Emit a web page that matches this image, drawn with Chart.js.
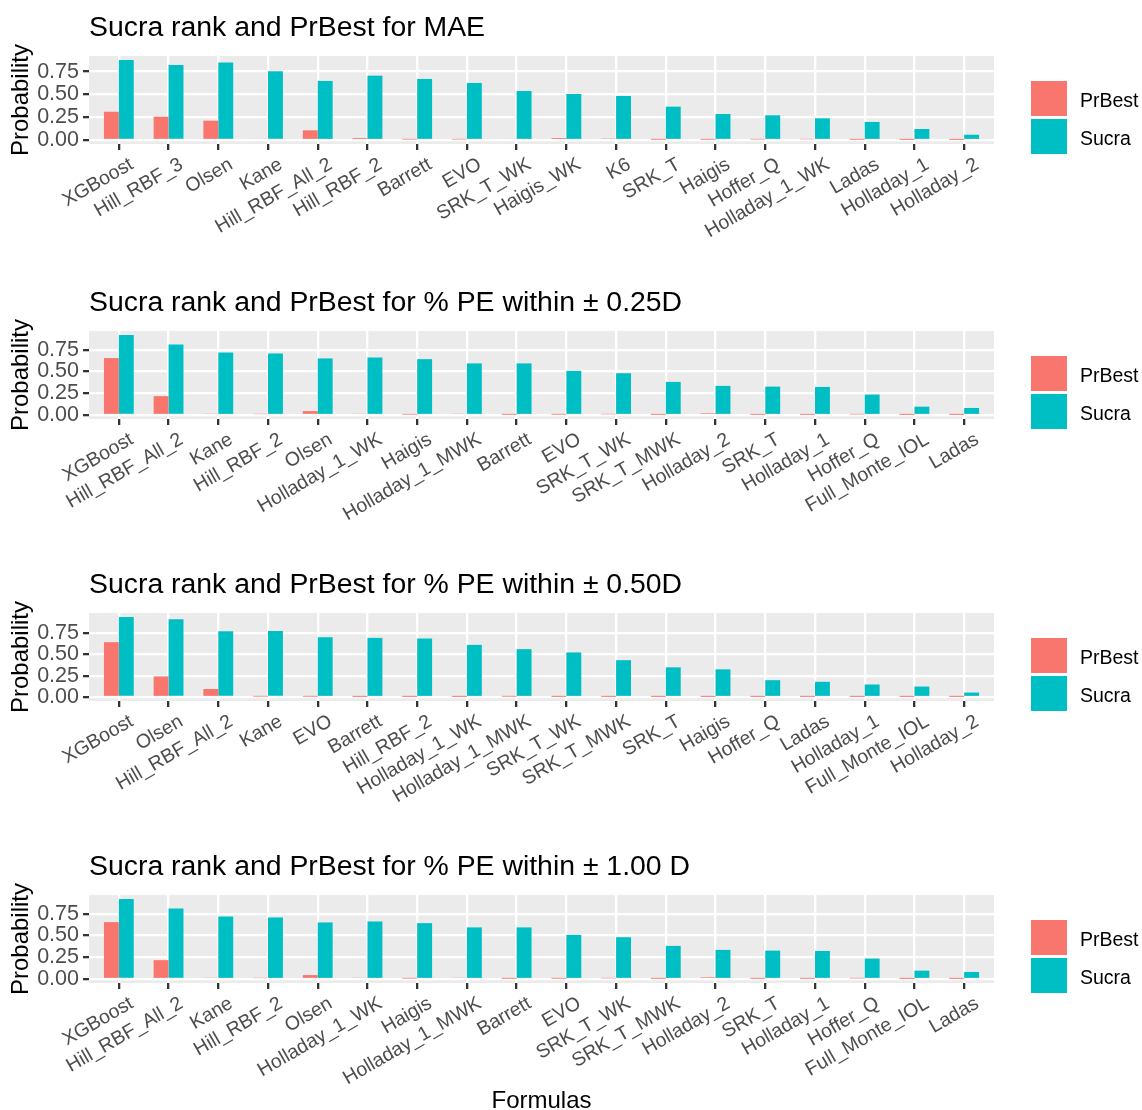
<!DOCTYPE html>
<html>
<head>
<meta charset="utf-8">
<title>Sucra rank and PrBest</title>
<script src="https://cdn.jsdelivr.net/npm/chart.js@4.4.1/dist/chart.umd.min.js"></script>
<style>
  body { margin: 0; background: #fff; width: 1142px; height: 1110px; overflow: hidden; position: relative;
         font-family: "Liberation Sans", Arial, Helvetica, sans-serif; }
  canvas { position: absolute; left: 0; }
  .key { position: absolute; left: 1031px; width: 36px; }
  .keytext { position: absolute; left: 1080px; font-size: 19.5px; line-height: 24px; color: #000; }
  #xtitle { position: absolute; left: 0; width: 1083px; text-align: center; top: 1086px;
            font-size: 24px; line-height: 28px; color: #000; }
</style>
</head>
<body>
<canvas id="panel1" width="1142" height="260"></canvas>
<canvas id="panel2" width="1142" height="260"></canvas>
<canvas id="panel3" width="1142" height="260"></canvas>
<canvas id="panel4" width="1142" height="260"></canvas>
<div id="xtitle">Formulas</div>

<script>
// Series names and colours (ggplot defaults)
const seriesNames = ['PrBest', 'Sucra'];
const seriesColors = ['#F8766D', '#00BFC4'];

// Panel 1: MAE
const title1 = 'Sucra rank and PrBest for MAE';
const formulas1 = ['XGBoost', 'Hill_RBF_3', 'Olsen', 'Kane', 'Hill_RBF_All_2', 'Hill_RBF_2', 'Barrett', 'EVO',
  'SRK_T_WK', 'Haigis_WK', 'K6', 'SRK_T', 'Haigis', 'Hoffer_Q', 'Holladay_1_WK', 'Ladas', 'Holladay_1', 'Holladay_2'];
const prbest1 = [0.31, 0.256, 0.212, 0.012, 0.106, 0.022, 0.005, 0.006, 0.012, 0.022, 0.016, 0.003, 0.003, 0.006, 0.008, 0.003, 0.002, 0.002];
const sucra1 = [0.878, 0.823, 0.849, 0.754, 0.648, 0.706, 0.670, 0.626, 0.538, 0.505, 0.483, 0.366, 0.285, 0.271, 0.238, 0.198, 0.121, 0.058];

// Panel 2: % PE within 0.25D
const title2 = 'Sucra rank and PrBest for % PE within ± 0.25D';
const formulas2 = ['XGBoost', 'Hill_RBF_All_2', 'Kane', 'Hill_RBF_2', 'Olsen', 'Holladay_1_WK', 'Haigis', 'Holladay_1_MWK',
  'Barrett', 'EVO', 'SRK_T_WK', 'SRK_T_MWK', 'Holladay_2', 'SRK_T', 'Holladay_1', 'Hoffer_Q', 'Full_Monte_IOL', 'Ladas'];
const prbest2 = [0.655, 0.217, 0.015, 0.01, 0.045, 0.015, 0.005, 0.015, 0.003, 0.004, 0.008, 0.003, 0.02, 0.003, 0.003, 0.007, 0.002, 0.002];
const sucra2 = [0.921, 0.811, 0.719, 0.708, 0.651, 0.662, 0.643, 0.594, 0.594, 0.508, 0.481, 0.381, 0.335, 0.327, 0.323, 0.235, 0.096, 0.081];

// Panel 3: % PE within 0.50D
const title3 = 'Sucra rank and PrBest for % PE within ± 0.50D';
const formulas3 = ['XGBoost', 'Olsen', 'Hill_RBF_All_2', 'Kane', 'EVO', 'Barrett', 'Hill_RBF_2', 'Holladay_1_WK',
  'Holladay_1_MWK', 'SRK_T_WK', 'SRK_T_MWK', 'SRK_T', 'Haigis', 'Hoffer_Q', 'Ladas', 'Holladay_1', 'Full_Monte_IOL', 'Holladay_2'];
const prbest3 = [0.645, 0.242, 0.094, 0.005, 0.004, 0.002, 0.002, 0.002, 0.004, 0.002, 0.002, 0.002, 0.002, 0.002, 0.002, 0.002, 0.002, 0.002];
const sucra3 = [0.941, 0.914, 0.773, 0.777, 0.703, 0.695, 0.688, 0.613, 0.563, 0.524, 0.433, 0.349, 0.325, 0.198, 0.179, 0.147, 0.123, 0.052];

// Panel 4: % PE within 1.00 D (reads the same as panel 2)
const title4 = 'Sucra rank and PrBest for % PE within ± 1.00 D';
const formulas4 = ['XGBoost', 'Hill_RBF_All_2', 'Kane', 'Hill_RBF_2', 'Olsen', 'Holladay_1_WK', 'Haigis', 'Holladay_1_MWK',
  'Barrett', 'EVO', 'SRK_T_WK', 'SRK_T_MWK', 'Holladay_2', 'SRK_T', 'Holladay_1', 'Hoffer_Q', 'Full_Monte_IOL', 'Ladas'];
const prbest4 = [0.655, 0.217, 0.015, 0.01, 0.045, 0.015, 0.005, 0.015, 0.003, 0.004, 0.008, 0.003, 0.02, 0.003, 0.003, 0.007, 0.002, 0.002];
const sucra4 = [0.921, 0.811, 0.719, 0.708, 0.651, 0.662, 0.643, 0.594, 0.594, 0.508, 0.481, 0.381, 0.335, 0.327, 0.323, 0.235, 0.096, 0.081];

// y axis breaks
const yMajorTicks = [0, 0.25, 0.5, 0.75];
const yMinorTicks = [0.125, 0.375, 0.625, 0.875];

// Layout (page pixels)
const panelTops = [56, 331, 613, 895];   // top of each grey panel
const canvasH = 260;
const plotTop = 56;       // inside canvas
const plotBottom = 144;
const plotLeft = 89;
const plotRight = 994;

const font = 'Liberation Sans, Arial, Helvetica, sans-serif';
Chart.defaults.font.family = font;

// grey panel background
const panelBackground = {
  id: 'panelBackground',
  beforeDraw(chart) {
    const { ctx, chartArea } = chart;
    ctx.save();
    ctx.fillStyle = '#EBEBEB';
    ctx.fillRect(chartArea.left, chartArea.top, chartArea.right - chartArea.left, chartArea.bottom - chartArea.top);
    ctx.restore();
  }
};

function makePanel(index, title, cats, prbest, sucra) {
  const canvas = document.getElementById('panel' + (index + 1));
  canvas.style.top = (panelTops[index] - plotTop) + 'px';

  const yMax = Math.max(...prbest, ...sucra);
  const yPad = yMax * 0.05;
  const allTicks = yMajorTicks.concat(yMinorTicks).filter(v => v <= yMax + yPad).sort((a, b) => a - b);
  const isMajor = v => yMajorTicks.includes(v);

  const series = [prbest, sucra];

  return new Chart(canvas, {
    type: 'bar',
    data: {
      datasets: series.map((vals, s) => ({
        label: seriesNames[s],
        data: vals.map((v, i) => ({ x: i + 1, y: v })),
        backgroundColor: seriesColors[s],
        borderWidth: 0,
        categoryPercentage: 0.6,
        barPercentage: 1
      }))
    },
    options: {
      responsive: false,
      animation: false,
      devicePixelRatio: 1,
      layout: { padding: { left: 0, right: 1142 - plotRight, top: 0, bottom: 0 } },
      plugins: {
        legend: { display: false },
        tooltip: { enabled: false },
        title: {
          display: true,
          text: title,
          align: 'start',
          fullSize: false,
          color: '#000',
          font: { size: 28.4, weight: 'normal', lineHeight: 1.2 },
          padding: { top: 11.3, bottom: 10.6 }
        }
      },
      scales: {
        x: {
          type: 'linear',
          min: 0.4,
          max: cats.length + 0.6,
          offset: false,
          afterBuildTicks: scale => { scale.ticks = cats.map((c, i) => ({ value: i + 1 })); },
          afterFit: scale => { scale.height = canvasH - plotBottom; },
          ticks: {
            callback: v => cats[v - 1] || '',
            autoSkip: false,
            minRotation: 30,
            maxRotation: 30,
            labelOffset: 13,
            color: '#4D4D4D',
            font: { size: 19.5 },
            padding: 3
          },
          grid: { offset: false, color: '#FFFFFF', lineWidth: 2.3, tickLength: 6, tickColor: '#333333', tickWidth: 2.3 },
          border: { display: false }
        },
        y: {
          min: -yPad,
          max: yMax + yPad,
          afterBuildTicks: scale => { scale.ticks = allTicks.map(v => ({ value: v })); },
          afterFit: scale => { scale.width = plotLeft; },
          ticks: {
            callback: v => isMajor(v) ? v.toFixed(2) : '',
            color: '#4D4D4D',
            font: { size: 21.5 },
            padding: 4
          },
          grid: {
            color: '#FFFFFF',
            lineWidth: ctx => (ctx.tick && isMajor(ctx.tick.value)) ? 2.3 : 1.2,
            tickLength: 6,
            tickColor: ctx => (ctx.tick && isMajor(ctx.tick.value)) ? '#333333' : 'rgba(0,0,0,0)',
            tickWidth: 2.3
          },
          border: { display: false },
          title: {
            display: true,
            text: 'Probability',
            color: '#000',
            font: { size: 24, lineHeight: 1.2 },
            padding: { top: 6.6, bottom: 0 }
          }
        }
      }
    },
    plugins: [panelBackground]
  });
}

// HTML legend for each panel
function makeLegend(index) {
  const top = panelTops[index];
  const keyTops = [top + 24.5, top + 63.3];
  const keyHeights = [35.5, 34.5];
  const textTops = [top + 31.5, top + 70];
  seriesNames.forEach((name, s) => {
    const key = document.createElement('div');
    key.className = 'key';
    key.style.top = keyTops[s] + 'px';
    key.style.height = keyHeights[s] + 'px';
    key.style.background = seriesColors[s];
    document.body.appendChild(key);
    const txt = document.createElement('div');
    txt.className = 'keytext';
    txt.style.top = textTops[s] + 'px';
    txt.textContent = name;
    document.body.appendChild(txt);
  });
}

makePanel(0, title1, formulas1, prbest1, sucra1);
makePanel(1, title2, formulas2, prbest2, sucra2);
makePanel(2, title3, formulas3, prbest3, sucra3);
makePanel(3, title4, formulas4, prbest4, sucra4);
[0, 1, 2, 3].forEach(makeLegend);
</script>
</body>
</html>
